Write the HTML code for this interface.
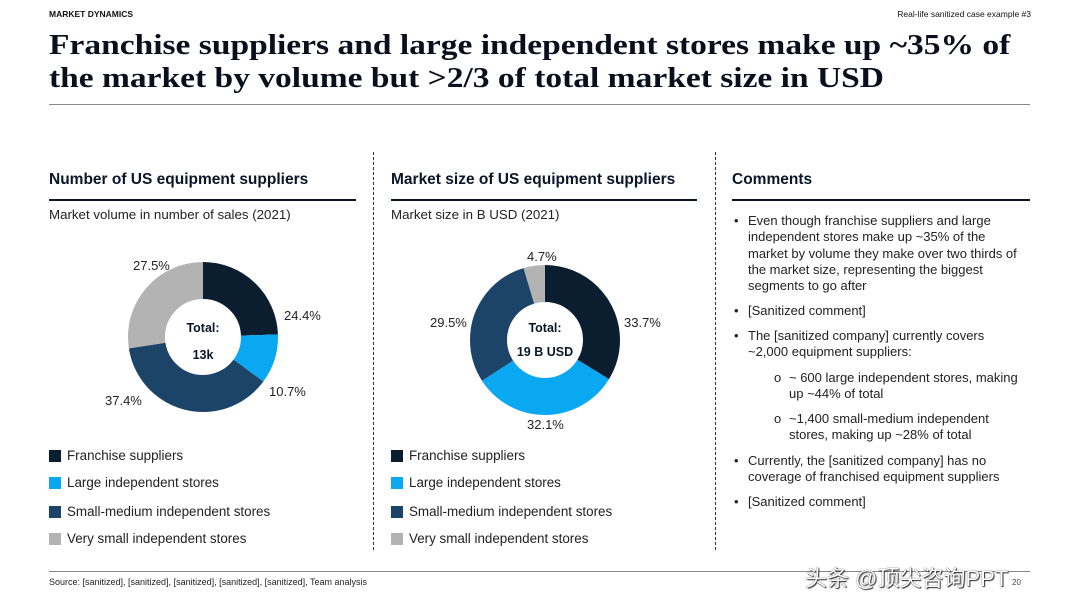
<!DOCTYPE html>
<html><head><meta charset="utf-8"><style>
*{margin:0;padding:0}
body{width:1080px;height:608px;background:#fff;position:relative;overflow:hidden;font-family:"Liberation Sans",Arial,sans-serif;color:#111}
.a{position:absolute;white-space:nowrap}
.t{font-family:"Liberation Serif",serif;font-weight:bold;font-size:29px;color:#0a0f1e;left:49px;transform:scaleX(1.155);transform-origin:0 0}
.h{font-weight:bold;font-size:15.5px;color:#0a1628}
.s{font-size:13.3px;color:#222}
.rule{position:absolute;height:1.5px;background:#0a1628}
.vd{position:absolute;top:152px;height:398px;border-left:1.5px dashed #333}
.sq{position:absolute;width:12px;height:12px}
.lg{font-size:13.4px;color:#222}
.c{font-size:13px;color:#222;line-height:16.3px}
</style></head><body>
<div class="a" style="left:49px;top:9px;font-size:8.5px;font-weight:bold">MARKET DYNAMICS</div>
<div class="a" style="right:49px;top:9px;font-size:8.5px">Real-life sanitized case example #3</div>
<div class="a t" style="top:29px">Franchise suppliers and large independent stores make up ~35% of</div>
<div class="a t" style="top:62px">the market by volume but &gt;2/3 of total market size in USD</div>
<div class="rule" style="left:49px;width:981px;top:104px;height:1px;background:#888"></div>

<div class="a h" style="left:49px;top:171px">Number of US equipment suppliers</div>
<div class="a h" style="left:391px;top:171px">Market size of US equipment suppliers</div>
<div class="a h" style="left:732px;top:171px">Comments</div>
<div class="rule" style="left:49px;width:307px;top:199px"></div>
<div class="rule" style="left:391px;width:306px;top:199px"></div>
<div class="rule" style="left:732px;width:298px;top:199px"></div>
<div class="vd" style="left:373px"></div>
<div class="vd" style="left:715px"></div>
<div class="a s" style="left:49px;top:207px">Market volume in number of sales (2021)</div>
<div class="a s" style="left:391px;top:207px">Market size in B USD (2021)</div>

<svg class="a" style="left:0;top:0" width="1080" height="608">
<g transform="translate(203,337) rotate(-90)" fill="none" stroke-width="37">
<circle r="56.5" stroke="#0b1e30" stroke-dasharray="86.62 400" stroke-dashoffset="0"/>
<circle r="56.5" stroke="#0aa8f0" stroke-dasharray="37.98 400" stroke-dashoffset="-86.62"/>
<circle r="56.5" stroke="#1c4468" stroke-dasharray="132.77 400" stroke-dashoffset="-124.6"/>
<circle r="56.5" stroke="#b3b3b3" stroke-dasharray="97.63 400" stroke-dashoffset="-257.37"/>
</g>
<g transform="translate(545,340) rotate(-90)" fill="none" stroke-width="37">
<circle r="56.5" stroke="#0b1e30" stroke-dasharray="119.63 400" stroke-dashoffset="0"/>
<circle r="56.5" stroke="#0aa8f0" stroke-dasharray="113.96 400" stroke-dashoffset="-119.63"/>
<circle r="56.5" stroke="#1c4468" stroke-dasharray="104.72 400" stroke-dashoffset="-233.59"/>
<circle r="56.5" stroke="#b3b3b3" stroke-dasharray="16.69 400" stroke-dashoffset="-338.31"/>
</g>
<g font-family="Liberation Sans,Arial,sans-serif" font-size="13" fill="#222">
<text x="133" y="270">27.5%</text>
<text x="284" y="320">24.4%</text>
<text x="269" y="396">10.7%</text>
<text x="105" y="405">37.4%</text>
<text x="527" y="261">4.7%</text>
<text x="624" y="327">33.7%</text>
<text x="430" y="327">29.5%</text>
<text x="527" y="429">32.1%</text>
</g>
<g font-family="Liberation Sans,Arial,sans-serif" font-size="12.5" font-weight="bold" fill="#0a1628" text-anchor="middle">
<text x="203" y="332">Total:</text>
<text x="203" y="359">13k</text>
<text x="545" y="332">Total:</text>
<text x="545" y="356">19 B USD</text>
</g>
</svg>

<div class="sq" style="left:49px;top:450px;background:#0b1e30"></div>
<div class="sq" style="left:49px;top:477px;background:#0aa8f0"></div>
<div class="sq" style="left:49px;top:506px;background:#1c4468"></div>
<div class="sq" style="left:49px;top:533px;background:#b3b3b3"></div>
<div class="a lg" style="left:67px;top:448px">Franchise suppliers</div>
<div class="a lg" style="left:67px;top:475px">Large independent stores</div>
<div class="a lg" style="left:67px;top:504px">Small-medium independent stores</div>
<div class="a lg" style="left:67px;top:531px">Very small independent stores</div>
<div class="sq" style="left:391px;top:450px;background:#0b1e30"></div>
<div class="sq" style="left:391px;top:477px;background:#0aa8f0"></div>
<div class="sq" style="left:391px;top:506px;background:#1c4468"></div>
<div class="sq" style="left:391px;top:533px;background:#b3b3b3"></div>
<div class="a lg" style="left:409px;top:448px">Franchise suppliers</div>
<div class="a lg" style="left:409px;top:475px">Large independent stores</div>
<div class="a lg" style="left:409px;top:504px">Small-medium independent stores</div>
<div class="a lg" style="left:409px;top:531px">Very small independent stores</div>

<div class="a c" style="left:734px;top:213px">•</div>
<div class="a c" style="left:748px;top:213px">Even though franchise suppliers and large<br>independent stores make up ~35% of the<br>market by volume they make over two thirds of<br>the market size, representing the biggest<br>segments to go after</div>
<div class="a c" style="left:734px;top:303px">•</div>
<div class="a c" style="left:748px;top:303px">[Sanitized comment]</div>
<div class="a c" style="left:734px;top:328px">•</div>
<div class="a c" style="left:748px;top:328px">The [sanitized company] currently covers<br>~2,000 equipment suppliers:</div>
<div class="a c" style="left:774px;top:370px">o</div>
<div class="a c" style="left:789px;top:370px">~ 600 large independent stores, making<br>up ~44% of total</div>
<div class="a c" style="left:774px;top:411px">o</div>
<div class="a c" style="left:789px;top:411px">~1,400 small-medium independent<br>stores, making up ~28% of total</div>
<div class="a c" style="left:734px;top:453px">•</div>
<div class="a c" style="left:748px;top:453px">Currently, the [sanitized company] has no<br>coverage of franchised equipment suppliers</div>
<div class="a c" style="left:734px;top:494px">•</div>
<div class="a c" style="left:748px;top:494px">[Sanitized comment]</div>

<div class="rule" style="left:49px;width:981px;top:571px;height:1px;background:#888"></div>
<div class="a" style="left:49px;top:577px;font-size:9px;color:#222">Source: [sanitized], [sanitized], [sanitized], [sanitized], [sanitized], Team analysis</div>
<div class="a" style="left:1012px;top:578px;font-size:8px;color:#444">20</div>
<div class="a" style="left:805px;top:561px;font-size:22px;color:#fff;font-family:'Liberation Sans','Noto Sans CJK SC',sans-serif;text-shadow:0 0 1px #000,1px 1px 1px #333">头条 @顶尖咨询PPT</div>
</body></html>
